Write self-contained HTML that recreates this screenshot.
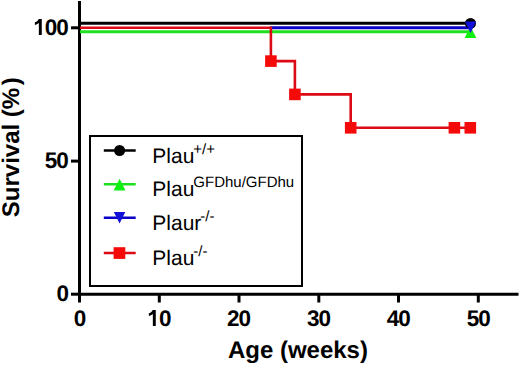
<!DOCTYPE html>
<html><head><meta charset="utf-8">
<style>
html,body{margin:0;padding:0;background:#fff;width:520px;height:365px;overflow:hidden;}
svg{display:block;}
text{font-family:"Liberation Sans",sans-serif;}
.b{font-weight:bold;}
</style></head>
<body>
<svg width="520" height="365" viewBox="0 0 520 365" text-rendering="geometricPrecision">
<!-- axes -->
<g stroke="#000" stroke-width="3" fill="none" stroke-linecap="butt">
  <line x1="79.5" y1="1" x2="79.5" y2="295.9"/>
  <line x1="78" y1="294.2" x2="518.5" y2="294.2"/>
  <!-- y ticks -->
  <line x1="71" y1="294.2" x2="79" y2="294.2"/>
  <line x1="71" y1="161.1" x2="79" y2="161.1"/>
  <line x1="71" y1="27.8" x2="79" y2="27.8"/>
  <!-- x ticks -->
  <line x1="79.5" y1="294" x2="79.5" y2="302.5"/>
  <line x1="159.3" y1="294" x2="159.3" y2="302.5"/>
  <line x1="239" y1="294" x2="239" y2="302.5"/>
  <line x1="318.8" y1="294" x2="318.8" y2="302.5"/>
  <line x1="398.5" y1="294" x2="398.5" y2="302.5"/>
  <line x1="478.3" y1="294" x2="478.3" y2="302.5"/>
</g>
<!-- y tick labels -->
<g class="b" font-size="22.5" text-anchor="end" fill="#000" letter-spacing="-1">
  <text x="67.9" y="35.0">00</text>
  <text x="67.9" y="168.3">50</text>
  <text x="67.9" y="301.2">0</text>
</g>
<!-- x tick labels -->
<g class="b" font-size="22.5" text-anchor="middle" fill="#000" letter-spacing="-1">
  <text x="79.4" y="326">0</text>
  <text x="238.6" y="326">20</text>
  <text x="318.6" y="326">30</text>
  <text x="398.35" y="326">40</text>
  <text x="478.3" y="326">50</text>
</g>
<path fill="#000" transform="translate(33.41,35) scale(0.0225,-0.0225)" d="M372,0L242,0L242,530C190,490 130,462 64,445L64,565C130,588 200,640 236,716L372,716Z"/>
<path fill="#000" transform="translate(147.4,326) scale(0.0225,-0.0225)" d="M372,0L242,0L242,530C190,490 130,462 64,445L64,565C130,588 200,640 236,716L372,716Z"/>
<text class="b" font-size="22.5" x="158.9" y="326">0</text>
<!-- axis titles -->
<text class="b" font-size="24" x="227.9" y="357.5">Age (weeks)</text>
<text class="b" font-size="24" transform="translate(19.3,217.2) rotate(-90)">Survival (%</text>
<text class="b" font-size="24" transform="translate(19.3,85.2) rotate(-90)">)</text>

<!-- data lines -->
<g fill="none" stroke-width="3">
  <line x1="80" y1="23.3" x2="470.3" y2="23.3" stroke="#000"/>
  <line x1="80" y1="31.8" x2="470.3" y2="31.8" stroke="#1ee01e"/>
  <line x1="270" y1="27.8" x2="470.3" y2="27.8" stroke="#0a00c8"/>
  <polyline points="80,27.8 270.9,27.8 270.9,61.1 294.9,61.1 294.9,94.4 350.7,94.4 350.7,127.8 470.3,127.8" stroke="#dc0a14" stroke-width="2.6"/>
</g>
<!-- markers -->
<circle cx="470.5" cy="23.4" r="5.5" fill="#000"/>
<polygon points="464.6,38 476.4,38 470.5,26.5" fill="#10f010"/>
<polygon points="464.9,21.4 476.1,21.4 470.5,33.0" fill="#1010d8"/>
<g fill="#f50a0a">
  <rect x="265.1" y="55.3" width="11.6" height="11.6"/>
  <rect x="289.1" y="88.6" width="11.6" height="11.6"/>
  <rect x="344.9" y="122" width="11.6" height="11.6"/>
  <rect x="448.6" y="122" width="11.6" height="11.6"/>
  <rect x="464.5" y="122" width="11.6" height="11.6"/>
</g>

<!-- legend -->
<rect x="90" y="136" width="212" height="150" fill="#fff" stroke="#000" stroke-width="2"/>
<g stroke-width="2.6">
  <line x1="103.8" y1="150.5" x2="135.7" y2="150.5" stroke="#000"/>
  <line x1="103.8" y1="184.3" x2="135.7" y2="184.3" stroke="#1ee01e"/>
  <line x1="103.8" y1="217.8" x2="135.7" y2="217.8" stroke="#0a00c8"/>
  <line x1="103.8" y1="253" x2="135.7" y2="253" stroke="#dc0a14"/>
</g>
<circle cx="119.6" cy="150.5" r="5.5" fill="#000"/>
<polygon points="113.6,190.4 125.5,190.4 119.6,178.8" fill="#10f010"/>
<polygon points="113.8,212.1 125.3,212.1 119.6,223.6" fill="#1010d8"/>
<rect x="113.6" y="247.2" width="11.7" height="11.7" fill="#f50a0a"/>

<g font-size="21" fill="#000">
  <text x="152.3" y="162.8">Plau<tspan font-size="15" dx="-1" dy="-8.9">+/+</tspan></text>
  <text x="152.3" y="196.3">Plau<tspan font-size="15" dx="-1" dy="-9.5">GFDhu/GFDhu</tspan></text>
  <text x="152.3" y="230.3">Plaur<tspan font-size="15" dx="-1" dy="-9.2">-/-</tspan></text>
  <text x="152.3" y="265.3">Plau<tspan font-size="15" dx="-1" dy="-8.9">-/-</tspan></text>
</g>
</svg>
</body></html>
